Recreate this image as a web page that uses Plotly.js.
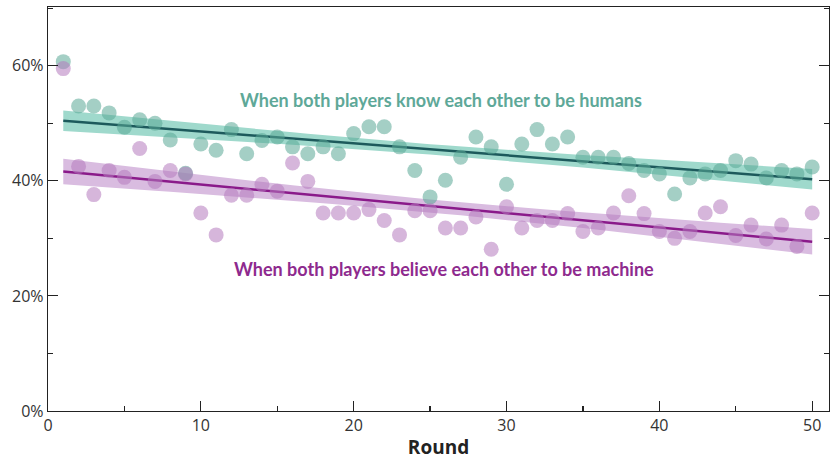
<!DOCTYPE html>
<html>
<head>
<meta charset="utf-8">
<script src="https://cdn.plot.ly/plotly-3.0.1.min.js"></script>
<style>html,body{margin:0;padding:0;background:#fff;}#chart{width:832px;height:460px;}</style>
</head>
<body>
<div id="chart"></div>
<script>
// Rounds 1..50
const rounds = Array.from({length: 50}, (_, i) => i + 1);

// Share (%) when both players know each other to be humans
const humans = [60.7, 53.0, 53.0, 51.8, 49.3, 50.6, 50.0, 47.1, 41.3, 46.4,
                45.3, 48.9, 44.7, 47.0, 47.6, 45.9, 44.7, 45.9, 44.7, 48.2,
                49.4, 49.4, 45.9, 41.8, 37.2, 40.1, 44.1, 47.6, 45.9, 39.4,
                46.4, 48.9, 46.4, 47.6, 44.1, 44.1, 44.1, 43.0, 41.8, 41.2,
                37.7, 40.5, 41.2, 41.8, 43.5, 42.9, 40.5, 41.8, 41.2, 42.4];

// Share (%) when both players believe each other to be machine
const machine = [59.5, 42.5, 37.6, 41.8, 40.6, 45.6, 39.9, 41.8, 41.2, 34.4,
                 30.6, 37.5, 37.5, 39.4, 38.2, 43.1, 39.9, 34.4, 34.4, 34.4,
                 35.0, 33.1, 30.6, 34.8, 34.8, 31.8, 31.8, 33.7, 28.1, 35.5,
                 31.8, 33.1, 33.1, 34.3, 31.2, 31.8, 34.4, 37.4, 34.3, 31.2,
                 30.0, 31.2, 34.4, 35.5, 30.5, 32.3, 29.9, 32.3, 28.6, 34.4];

const humansLabel = "When both players know each other to be humans";
const machineLabel = "When both players believe each other to be machine";

// Ordinary least squares fit with 95% confidence band, computed from the data
function fit(xs, ys) {
  const n = xs.length;
  const mx = xs.reduce((a, b) => a + b, 0) / n;
  const my = ys.reduce((a, b) => a + b, 0) / n;
  let sxx = 0, sxy = 0;
  for (let i = 0; i < n; i++) { sxx += (xs[i] - mx) ** 2; sxy += (xs[i] - mx) * (ys[i] - my); }
  const b = sxy / sxx, a = my - b * mx;
  let sse = 0;
  for (let i = 0; i < n; i++) sse += (ys[i] - a - b * xs[i]) ** 2;
  const s = Math.sqrt(sse / (n - 2));
  const t = 2.01;
  const yhat = xs.map(x => a + b * x);
  const hw = xs.map(x => t * s * Math.sqrt(1 / n + (x - mx) ** 2 / sxx));
  return {yhat, lo: yhat.map((v, i) => v - hw[i]), hi: yhat.map((v, i) => v + hw[i])};
}

const fh = fit(rounds, humans);
const fm = fit(rounds, machine);

const tealPt = '#5aa896', tealBand = '#9fd9cc', tealLine = '#1d5a5c';
const purPt = '#b47abd', purBand = '#d9bce0', purLine = '#8a1a8a';

function band(f, color) {
  return {
    x: rounds.concat(rounds.slice().reverse()),
    y: f.hi.concat(f.lo.slice().reverse()),
    type: 'scatter', mode: 'lines', fill: 'toself', fillcolor: color,
    line: {width: 0}, hoverinfo: 'skip', showlegend: false
  };
}

const data = [
  band(fh, tealBand),
  band(fm, purBand),
  {x: rounds, y: fh.yhat, type: 'scatter', mode: 'lines', line: {color: tealLine, width: 2.5}, showlegend: false},
  {x: rounds, y: fm.yhat, type: 'scatter', mode: 'lines', line: {color: purLine, width: 2.5}, showlegend: false},
  {x: rounds, y: humans, type: 'scatter', mode: 'markers', name: humansLabel,
   marker: {color: tealPt, size: 15, opacity: 0.55, line: {width: 0}}, showlegend: false},
  {x: rounds, y: machine, type: 'scatter', mode: 'markers', name: machineLabel,
   marker: {color: purPt, size: 15, opacity: 0.55, line: {width: 0}}, showlegend: false}
];

const tickFont = {family: 'Open Sans, sans-serif', size: 16, color: '#333'};

const layout = {
  width: 832, height: 460,
  margin: {l: 48, r: 3, t: 7, b: 49},
  paper_bgcolor: '#fff', plot_bgcolor: '#fff',
  showlegend: false,
  xaxis: {
    range: [0, 51.1], tickmode: 'linear', tick0: 0, dtick: 10,
    ticks: 'inside', ticklen: 10, tickwidth: 1.2, tickcolor: '#222',
    minor: {dtick: 5, ticks: 'inside', ticklen: 5, tickcolor: '#222', showgrid: false},
    showline: true, linecolor: '#222', linewidth: 1.2, mirror: true,
    showgrid: false, zeroline: false, tickfont: tickFont,
    title: {text: '<b>Round</b>', font: {family: 'Open Sans, sans-serif', size: 19, color: '#222'}, standoff: 6}
  },
  yaxis: {
    range: [0, 70.2], tickmode: 'linear', tick0: 0, dtick: 20, ticksuffix: '%',
    ticks: 'inside', ticklen: 10, tickwidth: 1.2, tickcolor: '#222',
    minor: {dtick: 10, ticks: 'inside', ticklen: 5, tickcolor: '#222', showgrid: false},
    showline: true, linecolor: '#222', linewidth: 1.2, mirror: 'ticks',
    showgrid: false, zeroline: false, tickfont: tickFont
  },
  annotations: [
    {x: 25.7, y: 54.1, xref: 'x', yref: 'y', text: '<b>' + humansLabel + '</b>', showarrow: false,
     font: {family: 'Lato, sans-serif', size: 18, color: '#5ea898'}},
    {x: 25.9, y: 24.7, xref: 'x', yref: 'y', text: '<b>' + machineLabel + '</b>', showarrow: false,
     font: {family: 'Lato, sans-serif', size: 18, color: '#8e2a8e'}}
  ]
};

Plotly.newPlot('chart', data, layout, {displayModeBar: false, staticPlot: true});
</script>
</body>
</html>
